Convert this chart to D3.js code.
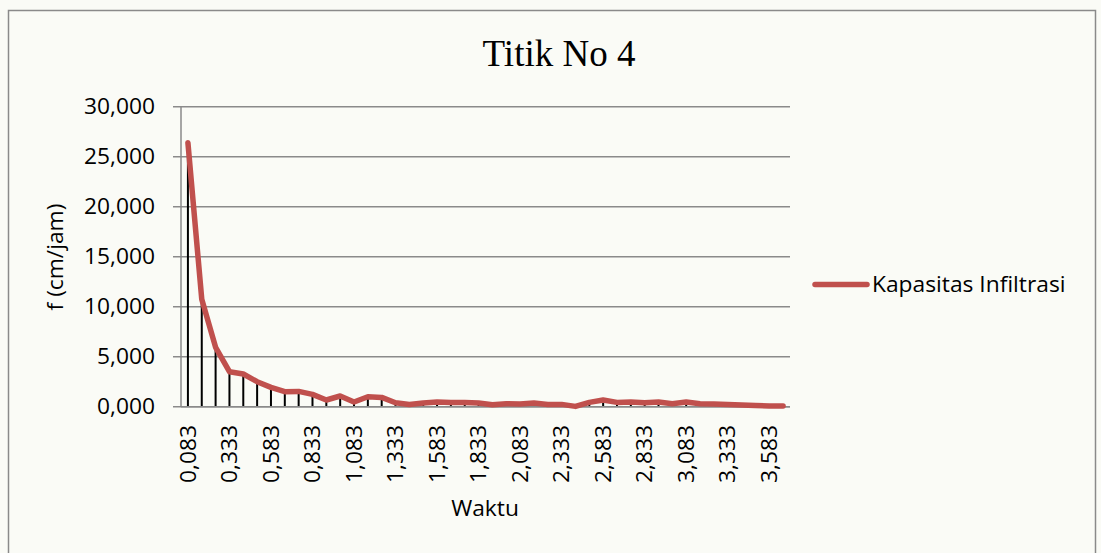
<!DOCTYPE html>
<html>
<head>
<meta charset="utf-8">
<script src="https://cdn.jsdelivr.net/npm/d3@7"></script>
<style>
  body { margin: 0; background: #fafbf6; }
  svg { display: block; }
</style>
</head>
<body>
<svg id="chart" width="1101" height="553"></svg>
<script>
// waktu (jam), one point every 5 minutes
const categories = [
  '0,083', '0,167', '0,250', '0,333', '0,417', '0,500', '0,583', '0,667', '0,750', '0,833',
  '0,917', '1,000', '1,083', '1,167', '1,250', '1,333', '1,417', '1,500', '1,583', '1,667',
  '1,750', '1,833', '1,917', '2,000', '2,083', '2,167', '2,250', '2,333', '2,417', '2,500',
  '2,583', '2,667', '2,750', '2,833', '2,917', '3,000', '3,083', '3,167', '3,250', '3,333',
  '3,417', '3,500', '3,583', '3,667'
];

// kapasitas infiltrasi f (cm/jam)
const infiltrasi = [
  26.4, 10.74, 5.94, 3.5, 3.27, 2.5, 1.93, 1.5, 1.53, 1.23,
  0.67, 1.07, 0.47, 1.0, 0.93, 0.4, 0.23, 0.37, 0.47, 0.43,
  0.43, 0.37, 0.2, 0.3, 0.27, 0.37, 0.23, 0.23, 0.03, 0.43,
  0.67, 0.43, 0.47, 0.4, 0.47, 0.3, 0.47, 0.3, 0.27, 0.23,
  0.17, 0.13, 0.07, 0.07
];

const yTicks = [0, 5, 10, 15, 20, 25, 30];

const title = 'Titik No 4';
const seriesName = 'Kapasitas Infiltrasi';
const xTitle = 'Waktu';
const yTitle = 'f (cm/jam)';

const red = '#c0504d';
const gridColor = '#8a8a8a';
const font = '"Open Sans", "Noto Sans", sans-serif';
const fs = 21.5;
const sx = 1.06; // reference text is a bit wider than Open Sans

const svg = d3.select('#chart');

// chart frame
svg.append('rect')
  .attr('x', 8.5).attr('y', 10.5)
  .attr('width', 1087).attr('height', 570)
  .attr('fill', 'none')
  .attr('stroke', gridColor)
  .attr('stroke-width', 1.5);

const plotLeft = 181, plotRight = 790, plotTop = 106.7, plotBottom = 406.7;

const x = d3.scaleBand().domain(categories).range([plotLeft, plotRight]).padding(0);
const y = d3.scaleLinear().domain([0, 30]).range([plotBottom, plotTop]);
const cx = d => x(d) + x.bandwidth() / 2;

// gridlines + y ticks
svg.append('g')
  .selectAll('line')
  .data(yTicks)
  .enter().append('line')
  .attr('x1', plotLeft - 8).attr('x2', plotRight)
  .attr('y1', d => y(d)).attr('y2', d => y(d))
  .attr('stroke', gridColor)
  .attr('stroke-width', 1.5);

// y axis line
svg.append('line')
  .attr('x1', plotLeft).attr('x2', plotLeft)
  .attr('y1', plotTop).attr('y2', plotBottom)
  .attr('stroke', gridColor)
  .attr('stroke-width', 1.5);

const fmtY = v => d3.format('.3f')(v).replace('.', ',');

svg.append('g')
  .selectAll('text')
  .data(yTicks)
  .enter().append('text')
  .attr('transform', d => `translate(155,${y(d)}) scale(${sx},1)`)
  .attr('dy', '0.36em')
  .attr('text-anchor', 'end')
  .style('font-family', font)
  .style('font-size', fs + 'px')
  .attr('fill', '#000')
  .text(d => fmtY(d));

// x tick labels (every 3rd category)
svg.append('g')
  .selectAll('text')
  .data(categories.filter((d, i) => i % 3 === 0))
  .enter().append('text')
  .attr('transform', d => `translate(${cx(d)},425) rotate(-90) scale(${sx},1)`)
  .attr('dy', '0.36em')
  .attr('text-anchor', 'end')
  .style('font-family', font)
  .style('font-size', fs + 'px')
  .attr('fill', '#000')
  .text(d => d);

// drop lines
svg.append('g')
  .selectAll('line')
  .data(categories)
  .enter().append('line')
  .attr('x1', d => cx(d)).attr('x2', d => cx(d))
  .attr('y1', (d, i) => y(infiltrasi[i])).attr('y2', plotBottom)
  .attr('stroke', '#000')
  .attr('stroke-width', 2);

// x axis line
svg.append('line')
  .attr('x1', plotLeft).attr('x2', plotRight)
  .attr('y1', plotBottom).attr('y2', plotBottom)
  .attr('stroke', gridColor)
  .attr('stroke-width', 1.5);

// series line
const line = d3.line()
  .x((d, i) => cx(categories[i]))
  .y(d => y(d));

svg.append('path')
  .datum(infiltrasi)
  .attr('d', line)
  .attr('fill', 'none')
  .attr('stroke', red)
  .attr('stroke-width', 5.5)
  .attr('stroke-linejoin', 'round')
  .attr('stroke-linecap', 'round');

// title
svg.append('text')
  .attr('x', 559).attr('y', 66)
  .attr('text-anchor', 'middle')
  .style('font-family', '"Liberation Serif", "Times New Roman", serif')
  .style('font-size', '37px')
  .attr('fill', '#000')
  .text(title);

// axis titles
svg.append('text')
  .attr('transform', `translate(485,516) scale(${sx},1)`)
  .attr('text-anchor', 'middle')
  .style('font-family', font)
  .style('font-size', fs + 'px')
  .attr('fill', '#000')
  .text(xTitle);

svg.append('text')
  .attr('transform', `translate(63,257) rotate(-90) scale(${sx},1)`)
  .attr('text-anchor', 'middle')
  .style('font-family', font)
  .style('font-size', fs + 'px')
  .attr('fill', '#000')
  .text(yTitle);

// legend
svg.append('line')
  .attr('x1', 815).attr('x2', 867)
  .attr('y1', 284.5).attr('y2', 284.5)
  .attr('stroke', red)
  .attr('stroke-width', 5.5)
  .attr('stroke-linecap', 'round');

svg.append('text')
  .attr('transform', `translate(872,292) scale(${sx},1)`)
  .style('font-family', font)
  .style('font-size', fs + 'px')
  .attr('fill', '#000')
  .text(seriesName);
</script>
</body>
</html>
